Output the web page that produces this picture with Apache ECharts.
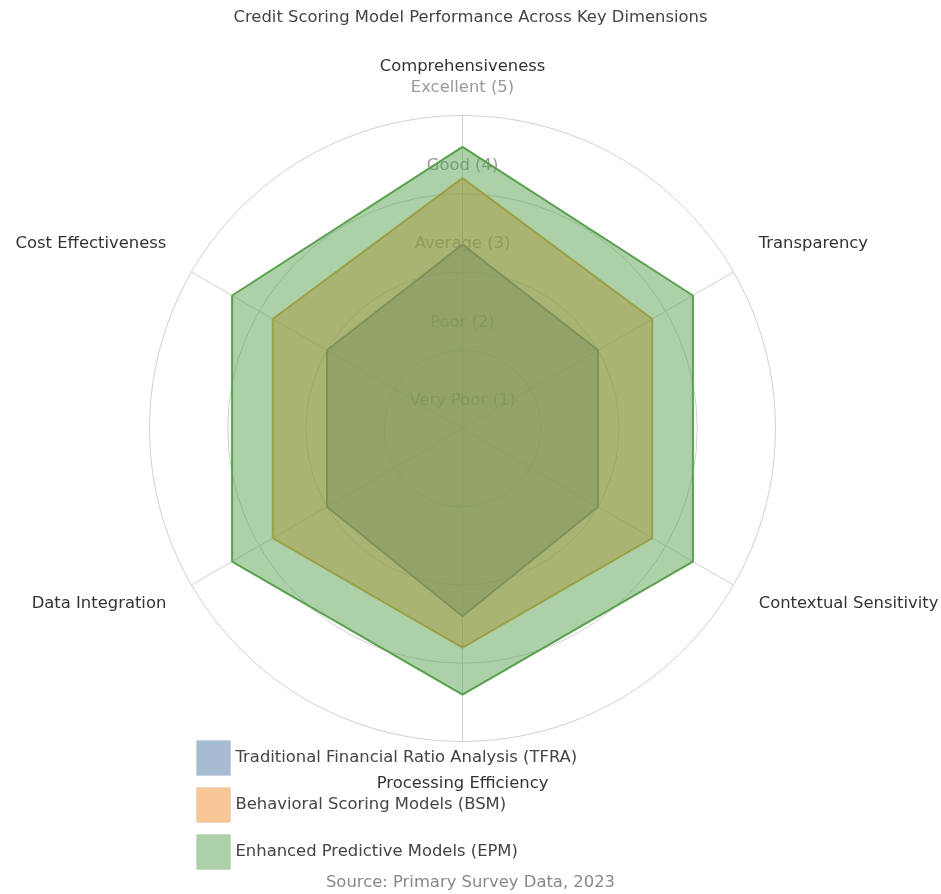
<!DOCTYPE html>
<html>
<head>
<meta charset="utf-8">
<script src="https://cdn.jsdelivr.net/npm/echarts@6/dist/echarts.min.js"></script>
<style>
html,body{margin:0;padding:0;background:#fff;}
#chart{width:941px;height:894px;}
</style>
</head>
<body>
<div id="chart"></div>
<script>
// Dimensions in clockwise order starting at the top
const categories = ['Comprehensiveness', 'Transparency', 'Contextual Sensitivity', 'Processing Efficiency', 'Data Integration', 'Cost Effectiveness'];
const tfraValues = [3.35, 3.0, 3.0, 3.4, 3.0, 3.0];
const bsmValues  = [4.2, 3.8, 3.8, 3.8, 3.8, 3.8];
const epmValues  = [4.6, 4.4, 4.4, 4.4, 4.4, 4.4];
const seriesNames = ['Traditional Financial Ratio Analysis (TFRA)', 'Behavioral Scoring Models (BSM)', 'Enhanced Predictive Models (EPM)'];
const tickValues = [1, 2, 3, 4, 5];
const tickLabels = ['Very Poor (1)', 'Poor (2)', 'Average (3)', 'Good (4)', 'Excellent (5)'];

const fills = ['rgba(78,121,167,0.5)', 'rgba(242,142,43,0.5)', 'rgba(89,161,79,0.5)'];
const lines = ['#4e79a7', '#d9a441', '#59a14f'];

// ECharts places radar indicators counter-clockwise; reorder to get clockwise layout
const order = [0, 5, 4, 3, 2, 1];
const reorder = arr => order.map(i => arr[i]);

const nameKey = {
  'Comprehensiveness': 'top',
  'Transparency': 'upper',
  'Cost Effectiveness': 'upper',
  'Contextual Sensitivity': 'lower',
  'Data Integration': 'lower',
  'Processing Efficiency': 'bottom'
};

const FONT = '"DejaVu Sans", sans-serif';
const FS = 16.4;
const chart = echarts.init(document.getElementById('chart'), null, {renderer: 'canvas'});

const allSeries = [tfraValues, bsmValues, epmValues].map((vals, k) => ({
  type: 'radar',
  name: seriesNames[k],
  z: 3 + k,
  symbol: 'none',
  lineStyle: {color: lines[k], width: 2},
  areaStyle: {color: fills[k], opacity: 1},
  itemStyle: {color: fills[k]},
  data: [{value: reorder(vals), name: seriesNames[k]}]
}));

const option = {
  animation: false,
  backgroundColor: '#ffffff',
  title: {
    text: 'Credit Scoring Model Performance Across Key Dimensions',
    left: 'center',
    top: 5,
    textStyle: {fontFamily: FONT, fontSize: FS, fontWeight: 'normal', color: '#444'}
  },
  legend: {
    orient: 'vertical',
    left: 191,
    top: 735,
    itemWidth: 34,
    itemHeight: 35,
    itemGap: 11,
    icon: 'rect',
    textStyle: {fontFamily: FONT, fontSize: FS, color: '#444'},
    data: seriesNames.map((n, k) => ({name: n, itemStyle: {color: fills[k], borderColor: 'rgba(0,0,0,0.05)', borderWidth: 1}}))
  },
  graphic: [],
  radar: {
    center: [462.5, 428.5],
    radius: 313,
    startAngle: 90,
    shape: 'circle',
    splitNumber: 4,
    nameGap: 29,
    indicator: reorder(categories).map(c => ({name: c, min: 1, max: 5})),
    axisName: {
      fontFamily: FONT,
      fontSize: FS,
      color: '#333',
      formatter: name => '{' + nameKey[name] + '|' + name + '}',
      rich: {
        top: {fontFamily: FONT, fontSize: FS, color: '#333', padding: [0, 0, 12, 0]},
        upper: {fontFamily: FONT, fontSize: FS, color: '#333', padding: [0, 0, 28, 0]},
        lower: {fontFamily: FONT, fontSize: FS, color: '#333', padding: [9, 0, 0, 0]},
        bottom: {fontFamily: FONT, fontSize: FS, color: '#333', padding: [5, 0, 0, 0]}
      }
    },
    axisLine: {lineStyle: {color: '#d0d0d0', width: 1}},
    splitLine: {lineStyle: {color: '#d0d0d0', width: 1}},
    splitArea: {show: false},
    axisTick: {show: false},
    axisLabel: {show: false}
  },
  series: allSeries
};

chart.setOption(option);

// Tick labels on the top axis, positioned through the radar coordinate system
try {
  const radarCS = chart.getModel().getComponent('radar').coordinateSystem;
  const texts = tickValues.map((v, i) => {
    const p = radarCS.dataToPoint(v, 0);
    return {
      type: 'text',
      x: p[0],
      y: p[1] - 28,
      z: 1,
      silent: true,
      style: {
        text: tickLabels[i],
        fill: '#9a9a9a',
        font: FS + 'px ' + FONT,
        textAlign: 'center',
        textVerticalAlign: 'middle'
      }
    };
  });
  texts.push({
    type: 'text',
    left: 'center',
    top: 875,
    style: {text: 'Source: Primary Survey Data, 2023', fill: '#888', font: FS + 'px ' + FONT}
  });
  chart.setOption({graphic: texts});
} catch (e) {
  console.error(e);
}
</script>
</body>
</html>
